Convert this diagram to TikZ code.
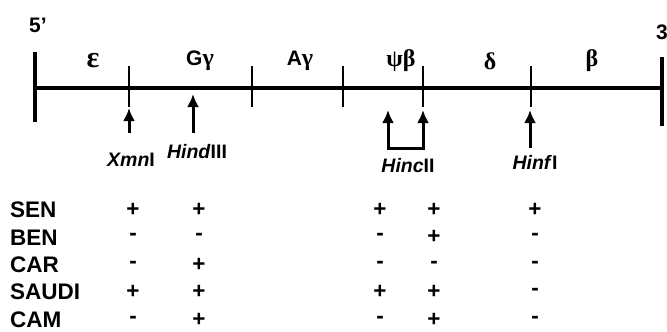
\documentclass[tikz,border=0pt]{standalone}
\usepackage{fontspec}
\setmainfont{Liberation Sans}
\newfontfamily\grk{Liberation Serif}
\usetikzlibrary{arrows.meta}
\begin{document}
\begin{tikzpicture}[x=1pt,y=-1pt,
  glbl/.style={font=\bfseries\fontsize{21}{23}\selectfont, inner sep=0pt},
  gk/.style={font=\grk\bfseries\fontsize{24}{26}\selectfont},
  enz/.style={font=\bfseries\fontsize{19.5}{21}\selectfont, inner sep=0pt},
  row/.style={font=\bfseries\fontsize{22.5}{24}\selectfont, inner sep=0pt, anchor=west},
  pm/.style={font=\bfseries\fontsize{22.5}{24}\selectfont, inner sep=0pt},
  arr/.style={line width=3pt, -{Latex[length=13pt,width=12pt]}},
  arrb/.style={line width=3pt, {Latex[length=13pt,width=12pt]}-{Latex[length=13pt,width=12pt]}},
  tick/.style={line width=1.2pt},
  endbar/.style={line width=3.2pt}]
\useasboundingbox (0,0) rectangle (667,332);
% main line
\coordinate (L) at (35,88);
\coordinate (R) at (662,88);
\coordinate (Lt) at (35,52);  \coordinate (Lb) at (35,122);
\coordinate (Rt) at (662,57); \coordinate (Rb) at (662,126);
\draw[line width=3.2pt] (L) -- (R);
\draw[endbar] (Lt) -- (Lb);
\draw[endbar] (Rt) -- (Rb);
% ticks
\foreach \n/\x in {t1/129,t2/252,t3/343,t4/423,t5/531}{
  \coordinate (\n a) at (\x,66);
  \coordinate (\n b) at (\x,107);
  \draw[tick] (\n a) -- (\n b);
}
% end labels
\node[glbl] (five) at (38,25) {5'};
\node[glbl] (three) at (662,32) {3};
% gene labels
\node[glbl] (eps) at (93,61) {{\grk\fontsize{30}{32}\selectfont ε}};
\node[glbl] (Gg) at (200,61) {G{\grk\fontsize{24}{26}\selectfont γ}};
\node[glbl] (Ag) at (300,61) {A{\grk\fontsize{24}{26}\selectfont γ}};
\node[glbl] (pb) at (401,61) {\grk\fontsize{24}{26}\selectfont ψβ};
\node[glbl] (dl) at (490,61) {\grk\fontsize{24}{26}\selectfont δ};
\node[glbl] (bt) at (592,61) {\grk\fontsize{24}{26}\selectfont β};
% arrows
\coordinate (xb) at (129,133); \coordinate (xt) at (129,108);
\draw[arr] (xb) -- (xt);
\coordinate (hb) at (193,133); \coordinate (ht) at (193,94);
\draw[arr] (hb) -- (ht);
\coordinate (c1t) at (388,110); \coordinate (c1b) at (388,148);
\coordinate (c2t) at (423,110); \coordinate (c2b) at (423,148);
\draw[arrb] (c1t) -- (c1b) -- (c2b) -- (c2t);
\coordinate (fb) at (530,148); \coordinate (ft) at (530,110);
\draw[arr] (fb) -- (ft);
% enzyme labels
\node[enz] (xmn) at (131,160) {\textit{Xmn}I};
\node[enz] (hind) at (197,152) {\textit{Hind}III};
\node[enz] (hinc) at (408,166) {\textit{Hinc}II};
\node[enz] (hinf) at (535,162) {\textit{Hinf}I};
% table
\foreach \i/\name/\a/\b/\c/\d/\e in {
  0/SEN/+/+/+/+/+,
  1/BEN/-/-/-/+/-,
  2/CAR/-/+/-/-/-,
  3/SAUDI/+/+/+/+/-,
  4/CAM/-/+/-/+/-}{
  \pgfmathsetmacro\yy{210+27.4*\i}
  \node[row] (r\i) at (10,\yy) {\name};
  \node[pm] (r\i c1) at (133,\yy) {\a};
  \node[pm] (r\i c2) at (199,\yy) {\b};
  \node[pm] (r\i c3) at (380,\yy) {\c};
  \node[pm] (r\i c4) at (434,\yy) {\d};
  \node[pm] (r\i c5) at (535,\yy) {\e};
}
\end{tikzpicture}
\end{document}
